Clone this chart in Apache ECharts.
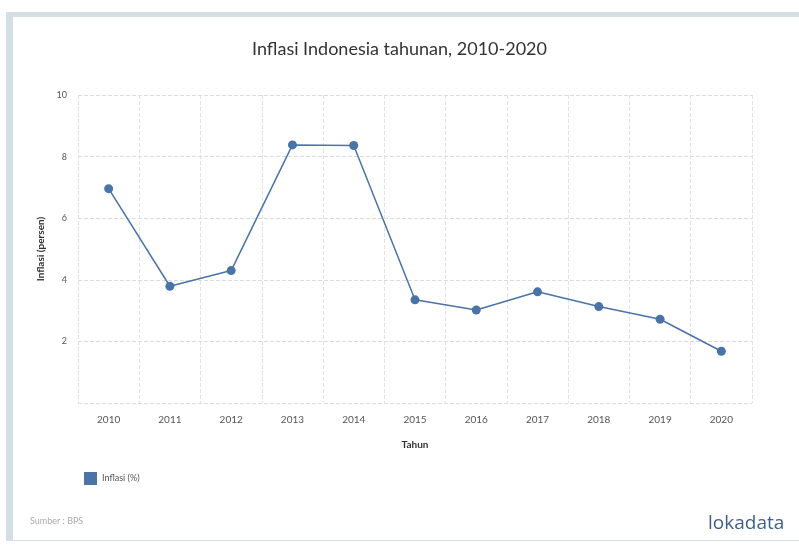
<!DOCTYPE html>
<html>
<head>
<meta charset="utf-8">
<script src="https://cdn.jsdelivr.net/npm/echarts@6/dist/echarts.min.js"></script>
<style>
html,body{margin:0;padding:0;background:#fff;}
#frame{position:absolute;left:6px;top:12px;width:793px;height:529px;border-top:5px solid #d3dfe5;border-left:7px solid #d3dfe5;border-bottom:1px solid #d8dde0;box-sizing:border-box;}
#chart{position:absolute;left:0;top:0;width:799px;height:545px;}
</style>
</head>
<body>
<div id="frame"></div>
<div id="chart"></div>
<script>
var years = ['2010','2011','2012','2013','2014','2015','2016','2017','2018','2019','2020'];
var inflasi = [6.96, 3.79, 4.30, 8.38, 8.36, 3.35, 3.02, 3.61, 3.13, 2.72, 1.68];
var yTicks = [0, 2, 4, 6, 8, 10];

var chart = echarts.init(document.getElementById('chart'), null, {renderer:'canvas'});
var font = 'Lato, "Open Sans", sans-serif';
chart.setOption({
  backgroundColor: 'transparent',
  animation: false,
  title: {
    text: 'Inflasi Indonesia tahunan, 2010-2020',
    left: 'center', top: 35,
    textStyle: {fontFamily: font, fontSize: 18, fontWeight: 'normal', color: '#333'}
  },
  legend: {
    data: [{name: 'Inflasi (%)', icon: 'rect'}],
    left: 79, top: 467, itemWidth: 13, itemHeight: 13, itemGap: 6,
    textStyle: {fontFamily: font, fontSize: 9, color: '#555'}
  },
  grid: {left: 78, right: 47, top: 95, bottom: 142},
  xAxis: {
    type: 'category', data: years, boundaryGap: true,
    name: 'Tahun', nameLocation: 'middle', nameGap: 37,
    nameTextStyle: {fontFamily: font, fontSize: 10, fontWeight: 'bold', color: '#333'},
    axisLine: {show: false}, axisTick: {show: false},
    axisLabel: {fontFamily: font, fontSize: 10, color: '#555', margin: 12},
    splitLine: {show: true, lineStyle: {type: 'dashed', color: '#e2e2e2'}}
  },
  yAxis: {
    type: 'value', min: yTicks[0], max: yTicks[yTicks.length-1], interval: 2,
    name: 'Inflasi (persen)', nameLocation: 'middle', nameGap: 31, nameRotate: 90,
    nameTextStyle: {fontFamily: font, fontSize: 10, fontWeight: 'bold', color: '#333'},
    axisLine: {show: false}, axisTick: {show: false},
    axisLabel: {fontFamily: font, fontSize: 9, color: '#555', margin: 11,
      formatter: function(v){ return v === 0 ? '' : String(v); }},
    splitLine: {show: true, lineStyle: {type: 'dashed', color: '#dcdcdc'}}
  },
  series: [{
    name: 'Inflasi (%)', type: 'line', data: inflasi,
    symbol: 'circle', symbolSize: 9,
    itemStyle: {color: '#4a73a8'},
    lineStyle: {color: '#4a73a8', width: 1.5}
  }],
  graphic: [
    {type: 'text', left: 30, top: 517, style: {text: 'Sumber : BPS', fontFamily: font, fontSize: 9, fill: '#aaa'}},
    {type: 'text', left: 708, top: 514, style: {text: 'lokadata', fontFamily: '"Open Sans", sans-serif', fontSize: 19, fill: '#3e5f8c'}}
  ]
});
</script>
</body>
</html>
